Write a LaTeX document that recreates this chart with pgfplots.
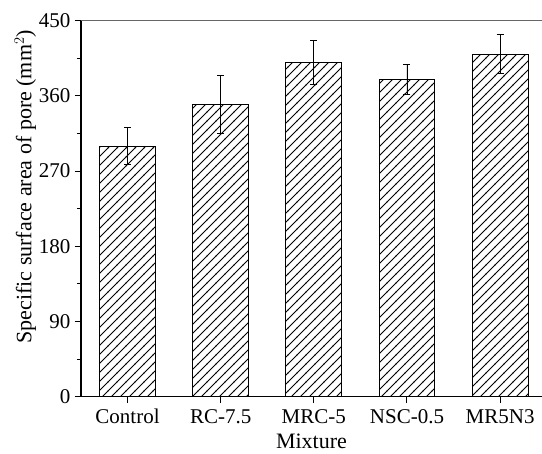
\documentclass[border=0pt]{standalone}
\usepackage{pgfplots}
\pgfplotsset{compat=1.18}
\usepackage{fontspec}
\setmainfont{Liberation Serif}
\usetikzlibrary{patterns}

% diagonal hatching, 9pt horizontal spacing
\pgfdeclarepatternformonly{hatchne}{\pgfqpoint{-1pt}{-1pt}}{\pgfqpoint{10pt}{10pt}}{\pgfqpoint{9pt}{9pt}}{%
  \pgfsetlinewidth{0.8pt}%
  \pgfpathmoveto{\pgfqpoint{-0.5pt}{-0.5pt}}%
  \pgfpathlineto{\pgfqpoint{9.5pt}{9.5pt}}%
  \pgfusepath{stroke}%
}

\pgfplotstableread{
x  y    err
0  300  22
1  350  35
2  400  26
3  380  18
4  410  23
}\poredata

\begin{document}
\begin{tikzpicture}
\begin{axis}[
    name=ax,
    at={(0,0)}, anchor=south west,
    width=461pt, height=376pt,
    scale only axis,
    xmin=-0.5, xmax=4.45,
    ymin=0, ymax=450,
    axis x line*=bottom,
    axis y line*=left,
    axis line style={line width=1.1pt, -},
    xtick={0,1,2,3,4},
    xticklabels={Control,RC-7.5,MRC-5,NSC-0.5,MR5N3},
    ytick={0,90,180,270,360,450},
    minor ytick={45,135,225,315,405},
    tick align=outside,
    major tick length=6pt,
    minor tick length=4pt,
    tick style={line width=1pt, black},
    ticklabel style={font=\fontsize{21}{24}\selectfont},
    /pgf/number format/assume math mode=true,
    xticklabel style={yshift=-3pt},
    yticklabel style={xshift=-1pt},
    xlabel={Mixture},
    ylabel={Specific surface area of pore (mm$^{2}$)},
    label style={font=\fontsize{22}{25}\selectfont},
    xlabel style={yshift=-3.5pt},
    ylabel style={yshift=-4pt, xshift=22pt},
    clip=false,
]
\draw[gray!80!black, line width=1pt] (rel axis cs:0,1) -- (rel axis cs:1,1);
\addplot[
    ybar, bar width=0.6, draw=black, line width=1pt,
    pattern=hatchne, pattern color=black,
    error bars/.cd, y dir=both, y explicit,
    error bar style={line width=0.9pt, black},
    error mark options={rotate=90, mark size=3.5pt, line width=0.9pt, black},
] table[x=x, y=y, y error=err] {\poredata};
\end{axis}
\pgfresetboundingbox
\path[use as bounding box] (-81pt,-57.3pt) rectangle (461pt,396.7pt);
\end{tikzpicture}
\end{document}
